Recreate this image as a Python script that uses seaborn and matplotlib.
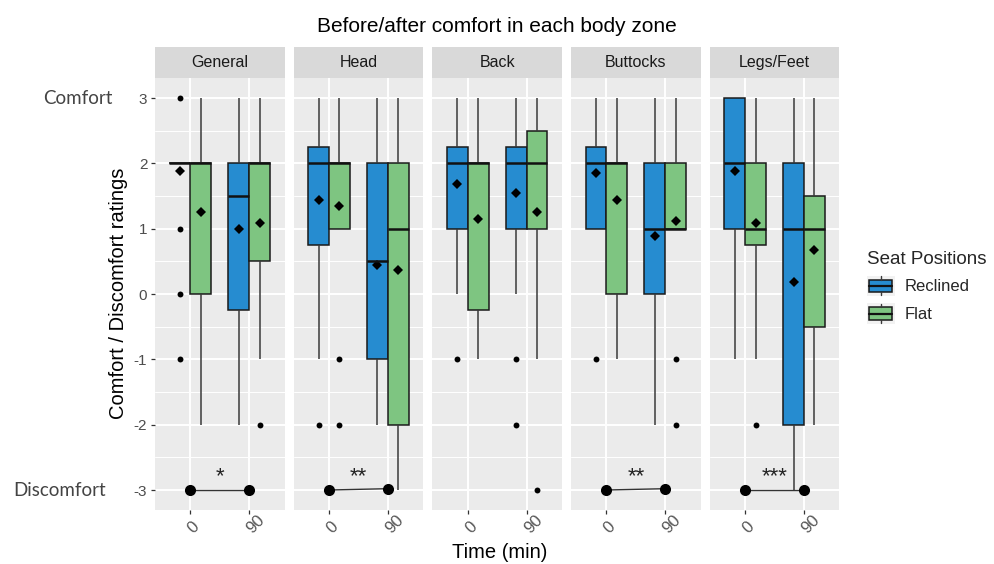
import numpy as np
import pandas as pd
import matplotlib
matplotlib.use("Agg")
import matplotlib.pyplot as plt
import matplotlib.transforms as mtransforms
from matplotlib.patches import Rectangle, Patch
from matplotlib.lines import Line2D
from matplotlib.legend_handler import HandlerBase
import seaborn as sns

# ---------------- data ----------------
zones = ["General", "Head", "Back", "Buttocks", "Legs/Feet"]
times = ["0", "90"]
positions = ["Reclined", "Flat"]

# box order inside each zone: (0, Reclined), (0, Flat), (90, Reclined), (90, Flat)
whisker_low = [2, -2, -2, -1,    -1, 1, -2, -3,    0, -1, 0, -1,    1, -1, -2, 1,    -1, -1, -3, -2]
q1 =          [2, 0, -0.25, 0.5, 0.75, 1, -1, -2,  1, -0.25, 1, 1,  1, 0, 0, 1,      1, 0.75, -2, -0.5]
median =      [2, 2, 1.5, 2,     2, 2, 0.5, 1,     2, 2, 2, 2,      2, 2, 1, 1,      2, 1, 1, 1]
q3 =          [2, 2, 2, 2,       2.25, 2, 2, 2,    2.25, 2, 2.25, 2.5, 2.25, 2, 2, 2, 3, 2, 2, 1.5]
whisker_high = [2, 3, 3, 3,      3, 3, 3, 3,       3, 3, 3, 3,      3, 3, 3, 3,      3, 3, 3, 3]
means = [1.88, 1.25, 1.00, 1.09,  1.44, 1.34, 0.44, 0.36,  1.68, 1.15, 1.54, 1.25,
         1.85, 1.44, 0.89, 1.11,  1.88, 1.09, 0.19, 0.68]

outlier_zone = ["General"] * 4 + ["General", "Head", "Head", "Head", "Back", "Back", "Back", "Back",
                                  "Buttocks", "Buttocks", "Buttocks", "Legs/Feet"]
outlier_time = ["0", "0", "0", "0", "90", "0", "0", "0", "0", "90", "90", "90", "0", "90", "90", "0"]
outlier_pos = ["Reclined"] * 4 + ["Flat", "Reclined", "Flat", "Flat", "Reclined", "Reclined", "Reclined",
                                  "Flat", "Reclined", "Flat", "Flat", "Flat"]
outlier_value = [3, 1, 0, -1, -2, -2, -1, -2, -1, -1, -2, -3, -1, -1, -2, -2]

sig_zone = ["General", "Head", "Buttocks", "Legs/Feet"]
sig_label = ["*", "**", "**", "***"]
sig_before = [-3, -3, -3, -3]
sig_after = [-3, -2.98, -2.98, -3]

# ---------------- tables ----------------
rows = []
i = 0
for z in zones:
    for t in times:
        for p in positions:
            for v in (whisker_low[i], q1[i], median[i], q3[i], whisker_high[i]):
                rows.append({"zone": z, "time": t, "position": p, "rating": v})
            i += 1
box_df = pd.DataFrame(rows)

mrows = []
i = 0
for z in zones:
    for t in times:
        for p in positions:
            mrows.append({"zone": z, "time": t, "position": p, "mean": means[i]})
            i += 1
mean_df = pd.DataFrame(mrows)

out_df = pd.DataFrame({"zone": outlier_zone, "time": outlier_time,
                       "position": outlier_pos, "rating": outlier_value})

# ---------------- style ----------------
sns.set_style("darkgrid")
plt.rcParams["font.family"] = ["Liberation Sans", "DejaVu Sans"]
plt.rcParams["axes.unicode_minus"] = False

blue = "#268CD0"
green = "#7EC581"
pal = {"Reclined": blue, "Flat": green}
box_width = 0.71
half = box_width / 4

W, H = 995.0, 564.0
top_px, bot_px = 78.4, 509.6
fig = plt.figure(figsize=(9.95, 5.64), dpi=100)

axes = []
for k, zone in enumerate(zones):
    left_px = 155 + k * 138.7
    ax = fig.add_axes([left_px / W, 1 - bot_px / H, 129.5 / W, (bot_px - top_px) / H])
    ax.set_facecolor("#EBEBEB")

    sns.boxplot(data=box_df[box_df.zone == zone], x="time", y="rating", hue="position",
                order=times, hue_order=positions, palette=pal, saturation=1,
                width=box_width, gap=0, whis=(0, 100), showfliers=False, showcaps=False,
                linecolor="#1A1A1A", linewidth=1.1,
                medianprops={"linewidth": 1.8, "color": "#111111"},
                whiskerprops={"color": "#3A3A3A", "linewidth": 1.1},
                legend=False, ax=ax, zorder=2)

    sub_o = out_df[out_df.zone == zone].copy()
    sub_o["x"] = [times.index(t) + (-half if p == "Reclined" else half)
                  for t, p in zip(sub_o.time, sub_o.position)]
    sns.scatterplot(data=sub_o, x="x", y="rating", color="black", s=18, linewidth=0,
                    legend=False, ax=ax, zorder=3)

    sns.pointplot(data=mean_df[mean_df.zone == zone], x="time", y="mean", hue="position",
                  order=times, hue_order=positions, palette={"Reclined": "black", "Flat": "black"},
                  dodge=2 * half, markers="D", linestyles="none", errorbar=None,
                  markersize=5.6, markeredgewidth=0, legend=False, ax=ax)

    if zone in sig_zone:
        j = sig_zone.index(zone)
        sx = [0, 1]
        sy = [sig_before[j], sig_after[j]]
        ax.plot(sx, sy, color="#333333", linewidth=1.0, zorder=3)
        sns.scatterplot(x=sx, y=sy, color="black", s=64, linewidth=0, legend=False, ax=ax, zorder=4)
        ax.text(0.5, -2.88, sig_label[j], ha="center", va="baseline", fontsize=16, color="#222222")

    ax.set_xlim(-0.6, 1.6)
    ax.set_ylim(-3.3, 3.3)
    ax.set_xticks([0, 1])
    ax.set_xticklabels(times)
    ax.set_yticks(range(-3, 4))
    ax.set_yticklabels([str(v) for v in range(-3, 4)])
    ax.set_yticks(np.arange(-2.5, 3.0, 1.0), minor=True)
    ax.set_axisbelow(True)
    ax.grid(False)
    ax.grid(which="major", axis="both", color="white", linewidth=1.4)
    ax.grid(which="minor", axis="y", color="white", linewidth=0.7)
    for s in ax.spines.values():
        s.set_visible(False)
    ax.set_xlabel("")
    ax.set_ylabel("")
    ax.tick_params(axis="x", which="major", bottom=True, length=3, width=0.9, color="#333333",
                   labelsize=12, labelcolor="#555555", pad=12)
    ax.tick_params(axis="y", which="minor", left=False)
    if k == 0:
        ax.tick_params(axis="y", which="major", left=True, length=3, width=0.9, color="#333333",
                       labelsize=11, labelcolor="#4D4D4D", pad=2.5)
    else:
        ax.tick_params(axis="y", which="major", left=False, labelleft=False)
    for lab in ax.get_xticklabels():
        lab.set_rotation(45)
        lab.set_ha("left")
        lab.set_va("center")
        lab.set_rotation_mode("anchor")

    # facet strip
    strip_h = 31.5 / (bot_px - top_px)
    ax.add_patch(Rectangle((0, 1), 1, strip_h, transform=ax.transAxes, facecolor="#D9D9D9",
                           edgecolor="none", clip_on=False))
    ax.text(0.5, 1 + strip_h / 2, zone, transform=ax.transAxes, ha="center", va="center",
            fontsize=11.5, color="#1A1A1A")
    axes.append(ax)

ax0 = axes[0]
blend = mtransforms.blended_transform_factory(fig.transFigure, ax0.transData)
fig.text(113 / W, 3, "Comfort", transform=blend, ha="right", va="center",
         fontsize=13.5, color="#444444", family=["Lato", "DejaVu Sans"])
fig.text(106 / W, -3, "Discomfort", transform=blend, ha="right", va="center",
         fontsize=13.5, color="#444444", family=["Lato", "DejaVu Sans"])

fig.text(497 / W, 1 - 26 / H, "Before/after comfort in each body zone", ha="center", va="center",
         fontsize=15, color="black")
fig.text(119 / W, 1 - 293 / H, "Comfort / Discomfort ratings", rotation=90, ha="center",
         va="center", fontsize=14.5, color="black")
fig.text(500 / W, 1 - 552 / H, "Time (min)", ha="center", va="center", fontsize=14.5, color="black")


class BoxKeyHandler(HandlerBase):
    def create_artists(self, legend, orig_handle, xdescent, ydescent, width, height, fontsize, trans):
        x0, y0 = -xdescent, -ydescent
        fc = orig_handle.get_facecolor()
        bg = Rectangle((x0, y0), width, height, facecolor="#F2F2F2", edgecolor="none", transform=trans)
        box = Rectangle((x0 + 0.08 * width, y0 + 0.2 * height), 0.84 * width, 0.6 * height,
                        facecolor=fc, edgecolor="#1A1A1A", linewidth=1.1, transform=trans)
        cx = x0 + width / 2
        med = Line2D([x0 + 0.08 * width, x0 + 0.92 * width], [y0 + 0.5 * height] * 2,
                     color="#111111", linewidth=1.6, transform=trans)
        w1 = Line2D([cx, cx], [y0 + 0.04 * height, y0 + 0.2 * height], color="#3A3A3A",
                    linewidth=1.0, transform=trans)
        w2 = Line2D([cx, cx], [y0 + 0.8 * height, y0 + 0.96 * height], color="#3A3A3A",
                    linewidth=1.0, transform=trans)
        return [bg, box, med, w1, w2]


handles = [Patch(facecolor=pal[p], label=p) for p in positions]
fig.legend(handles=handles, labels=positions, loc="upper left",
           bbox_to_anchor=(867 / W, 1 - 251 / H), frameon=False,
           title="Seat Positions", title_fontsize=13.5, fontsize=12,
           handler_map={Patch: BoxKeyHandler()}, handlelength=1.65, handleheight=1.5,
           labelspacing=0.45, handletextpad=0.6, borderpad=0, borderaxespad=0,
           alignment="left")

fig.savefig("out.png", dpi=100)
